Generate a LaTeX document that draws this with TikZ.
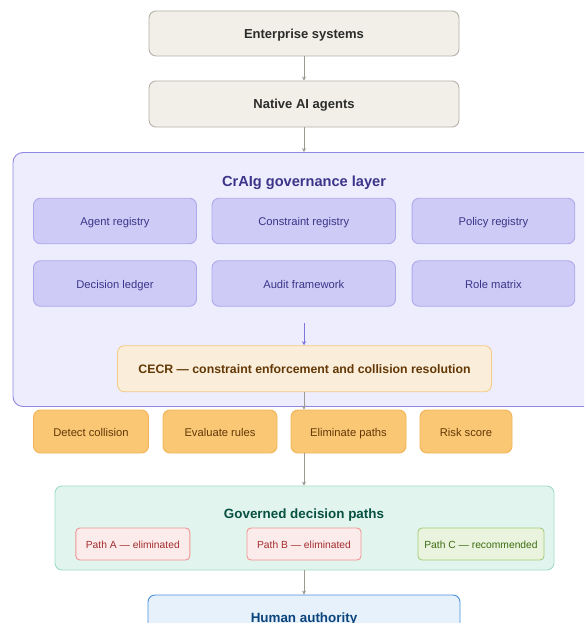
\documentclass[tikz,border=0pt]{standalone}
\usepackage{fontspec}
\setmainfont{Liberation Sans}
\usetikzlibrary{arrows.meta}
\definecolor{grayfill}{HTML}{F1EFE8}
\definecolor{graystroke}{HTML}{B4B2A9}
\definecolor{graytext}{HTML}{2C2C2A}
\definecolor{arrowgray}{HTML}{9C9A92}
\definecolor{layerfill}{HTML}{EEEDFE}
\definecolor{layerstroke}{HTML}{8F88E0}
\definecolor{purpfill}{HTML}{CECBF6}
\definecolor{purpstroke}{HTML}{AFA9EC}
\definecolor{purptext}{HTML}{3C3489}
\definecolor{purparrow}{HTML}{7F77DD}
\definecolor{amberfill}{HTML}{FAEEDA}
\definecolor{amberstroke}{HTML}{F5CC85}
\definecolor{ambertext}{HTML}{633806}
\definecolor{orangefill}{HTML}{FAC775}
\definecolor{orangestroke}{HTML}{F2B457}
\definecolor{tealfill}{HTML}{E1F5EE}
\definecolor{tealstroke}{HTML}{9FDCC4}
\definecolor{tealtext}{HTML}{085041}
\definecolor{redfill}{HTML}{FCEBEB}
\definecolor{redstroke}{HTML}{F09595}
\definecolor{redtext}{HTML}{A32D2D}
\definecolor{greenfill}{HTML}{EAF3DE}
\definecolor{greenstroke}{HTML}{A5CC78}
\definecolor{greentext}{HTML}{3B6D11}
\definecolor{bluefill}{HTML}{E6F1FB}
\definecolor{bluestroke}{HTML}{4A90D9}
\definecolor{bluetext}{HTML}{0C447C}
\tikzset{
  lbl/.style={inner sep=0pt, text height=0.95em, text depth=0.02em},
  box/.style={lbl, rectangle, rounded corners=7pt, line width=0.9pt, align=center},
  graybox/.style={box, fill=grayfill, draw=graystroke, text=graytext, font=\bfseries\fontsize{13}{15}\selectfont},
  purpbox/.style={box, fill=purpfill, draw=purpstroke, text=purptext, font=\fontsize{11.2}{13}\selectfont},
  orangebox/.style={box, fill=orangefill, draw=orangestroke, text=ambertext, font=\fontsize{11.2}{13}\selectfont},
  redbox/.style={box, rounded corners=4pt, fill=redfill, draw=redstroke, text=redtext, font=\fontsize{10.3}{12}\selectfont},
  greenbox/.style={box, rounded corners=4pt, fill=greenfill, draw=greenstroke, text=greentext, font=\fontsize{10.3}{12}\selectfont},
  conn/.style={draw=arrowgray, line width=0.9pt, -{Stealth[length=4pt,width=4pt]}},
  pconn/.style={draw=purparrow, line width=0.9pt, -{Stealth[length=4pt,width=4pt]}},
}
\begin{document}
\begin{tikzpicture}[x=1pt,y=-1pt]
\useasboundingbox (0,0) rectangle (584,623);
\clip (0,0) rectangle (584,623);
\fill[white] (0,0) rectangle (584,623);

\node[graybox, minimum width=310pt, minimum height=45pt] (ent) at (304,33.5) {Enterprise systems};
\node[graybox, minimum width=310pt, minimum height=46pt] (nat) at (304,104) {Native AI agents};

\node[box, rounded corners=10pt, fill=layerfill, draw=layerstroke, minimum width=600pt, minimum height=254pt] (layer) at (313,279.5) {};
\node[lbl, text=purptext, font=\bfseries\fontsize{14.6}{17}\selectfont] (title) at (304,182) {CrAIg governance layer};

\node[purpbox, minimum width=163pt, minimum height=45.5pt] (agent) at (115,221) {Agent registry};
\node[purpbox, minimum width=183.5pt, minimum height=45.5pt] (constr) at (303.75,221) {Constraint registry};
\node[purpbox, minimum width=162.7pt, minimum height=45.5pt] (policy) at (493.4,221) {Policy registry};
\node[purpbox, minimum width=163pt, minimum height=45.5pt] (ledger) at (115,283.5) {Decision ledger};
\node[purpbox, minimum width=183.5pt, minimum height=45.5pt] (audit) at (303.75,283.5) {Audit framework};
\node[purpbox, minimum width=162.7pt, minimum height=45.5pt] (role) at (493.4,283.5) {Role matrix};

\coordinate (pstart) at (304,323);
\node[box, fill=amberfill, draw=amberstroke, text=ambertext, font=\bfseries\fontsize{12.3}{14}\selectfont, minimum width=374pt, minimum height=46pt] (cecr) at (304.5,368.7) {CECR — constraint enforcement and collision resolution};

\node[orangebox, minimum width=115pt, minimum height=43pt] (detect) at (91,431.5) {Detect collision};
\node[orangebox, minimum width=114pt, minimum height=43pt] (eval) at (220,431.5) {Evaluate rules};
\node[orangebox, minimum width=115pt, minimum height=43pt] (elim) at (348.5,431.5) {Eliminate paths};
\node[orangebox, minimum width=92pt, minimum height=43pt] (risk) at (466,431.5) {Risk score};

\node[box, fill=tealfill, draw=tealstroke, minimum width=499pt, minimum height=84pt] (gov) at (304.5,528) {};
\node[lbl, text=tealtext, font=\bfseries\fontsize{13.4}{16}\selectfont] (govtitle) at (304,514) {Governed decision paths};
\node[redbox, minimum width=114pt, minimum height=32pt] (pa) at (132.8,544) {Path A — eliminated};
\node[redbox, minimum width=114pt, minimum height=32pt] (pb) at (304,544) {Path B — eliminated};
\node[greenbox, minimum width=126pt, minimum height=32pt] (pc) at (481,544) {Path C — recommended};

\node[box, fill=bluefill, draw=bluestroke, minimum width=312pt, minimum height=46pt] (human) at (304,618) {};
\node[lbl, text=bluetext, font=\bfseries\fontsize{13.4}{16}\selectfont] (humantext) at (304,617.5) {Human authority};

\draw[conn] (ent.south) -- (nat.north);
\draw[conn] (nat.south) -- (nat.south |- layer.north);
\draw[pconn] (pstart) -- (cecr.north -| pstart);
\draw[conn] (cecr.south -| pstart) -- (pstart |- elim.north);
\draw[conn] (pstart |- elim.south) -- (pstart |- gov.north);
\draw[conn] (pstart |- gov.south) -- (pstart |- human.north);
\end{tikzpicture}
\end{document}
